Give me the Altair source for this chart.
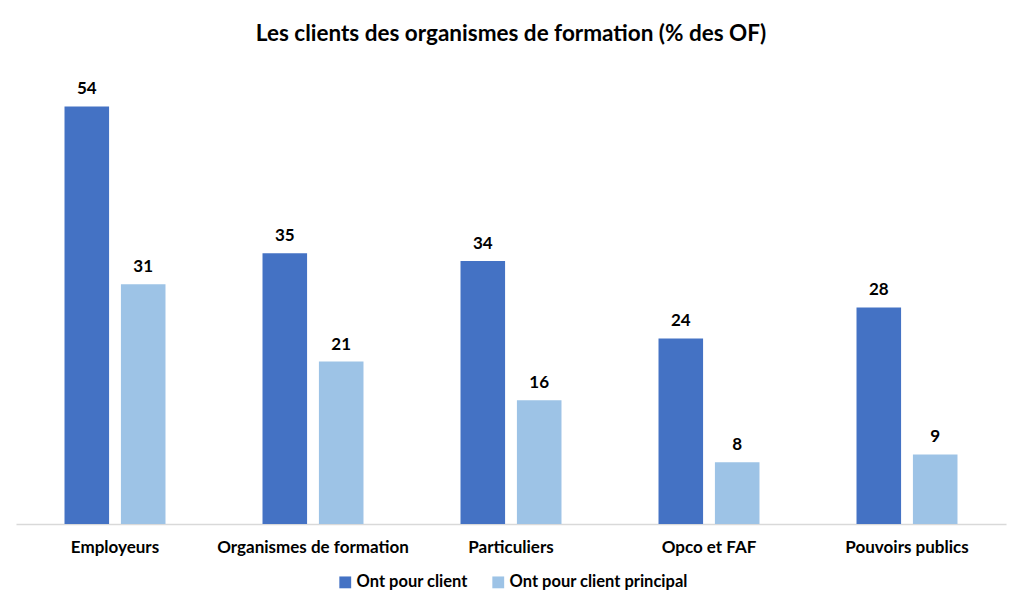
import altair as alt
import pandas as pd

categories = ["Employeurs", "Organismes de formation", "Particuliers", "Opco et FAF", "Pouvoirs publics"]
series_names = ["Ont pour client", "Ont pour client principal"]
ont_pour_client = [54, 35, 34, 24, 28]
ont_pour_client_principal = [31, 21, 16, 8, 9]

rows = []
for c, a, b in zip(categories, ont_pour_client, ont_pour_client_principal):
    rows.append({"cat": c, "serie": series_names[0], "val": a})
    rows.append({"cat": c, "serie": series_names[1], "val": b})
df = pd.DataFrame(rows)

FONT = "Lato"

x = alt.X("cat:N", sort=categories, title=None,
          scale=alt.Scale(paddingInner=0.49, paddingOuter=0.245),
          axis=alt.Axis(labelAngle=0, ticks=False, domainColor="#D9D9D9", domainWidth=1.5,
                        labelFont=FONT, labelFontSize=17, labelFontWeight="bold",
                        labelColor="#000000", labelPadding=15, labelLimit=400))
xo = alt.XOffset("serie:N", sort=series_names, scale=alt.Scale(paddingInner=0.21))
y = alt.Y("val:Q", scale=alt.Scale(domain=[0, 60]), axis=None)
color = alt.Color("serie:N", sort=series_names, title=None,
                  scale=alt.Scale(domain=series_names, range=["#4472C4", "#9DC3E6"]),
                  legend=alt.Legend(orient="none", direction="horizontal", legendX=321, legendY=514,
                                    symbolType="square", symbolSize=140, symbolStrokeWidth=0,
                                    labelFont=FONT, labelFontSize=16.5, labelFontWeight="bold",
                                    labelColor="#000000", columnPadding=22, labelOffset=3,
                                    labelLimit=400))

base = alt.Chart(df).encode(x=x, xOffset=xo, y=y)
bars = base.mark_bar().encode(color=color)
labels = base.mark_text(dy=-8, font=FONT, fontSize=17, fontWeight="bold", color="#000000",
                        baseline="bottom").encode(text="val:Q")

chart = alt.layer(bars, labels).properties(
    width=990, height=464,
    title=alt.TitleParams("Les clients des organismes de formation (% des OF)", font=FONT,
                          fontSize=22.5, fontWeight="bold", color="#000000", offset=15, anchor="middle"),
    autosize=alt.AutoSizeParams(type="none"),
    padding={"left": 8, "top": 52, "right": 10, "bottom": 77},
).configure(background="#ffffff").configure_view(stroke=None, strokeWidth=0)

chart.save("out.html", embed_options={"renderer": "svg", "actions": False})
